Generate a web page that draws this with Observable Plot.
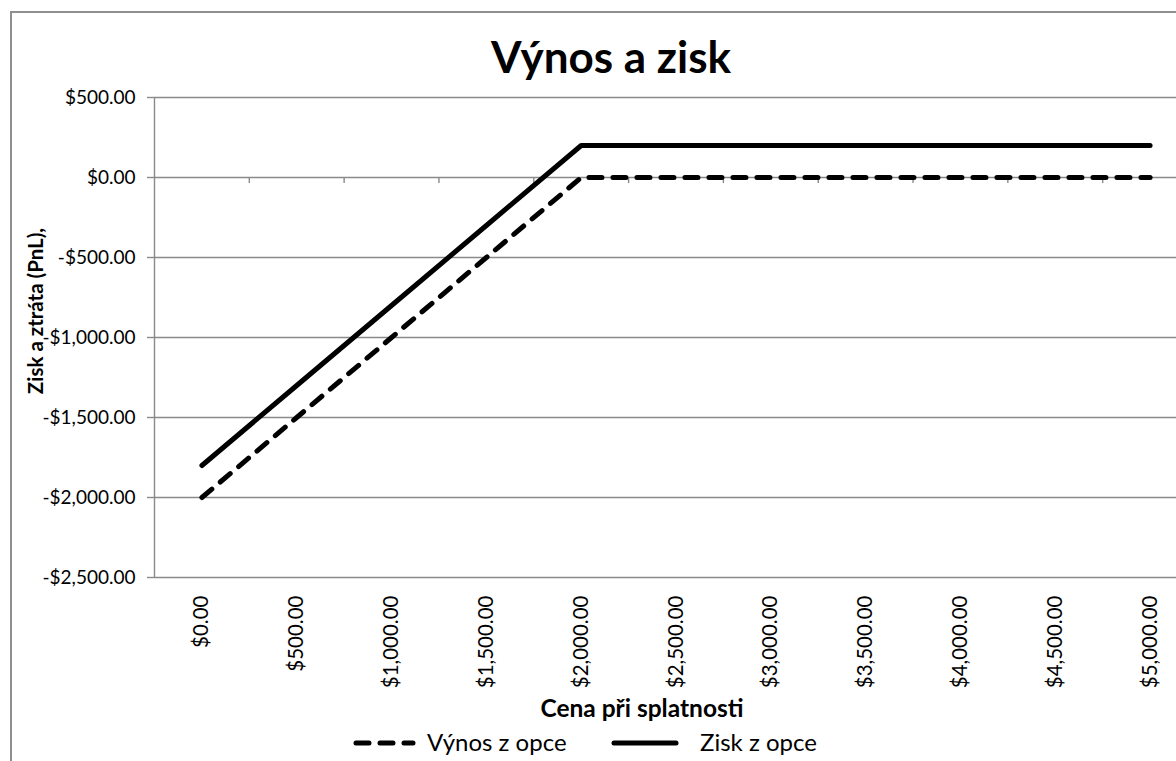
<!DOCTYPE html>
<html>
<head>
<meta charset="utf-8">
<script src="https://cdn.jsdelivr.net/npm/d3@7"></script>
<script src="https://cdn.jsdelivr.net/npm/@observablehq/plot@0.6"></script>
<style>
  html, body { margin: 0; padding: 0; background: #fff; overflow: hidden; }
  #wrap { position: relative; width: 1176px; height: 761px; overflow: hidden; font-family: Lato, "Open Sans", sans-serif; }
  #frame { position: absolute; left: 10px; top: 11px; width: 1300px; height: 900px; border: 2px solid #8f8f8f; box-sizing: border-box; }
  #chart { position: absolute; left: 0; top: 0; }
  #overlay { position: absolute; left: 0; top: 0; }
</style>
</head>
<body>
<div id="wrap">
  <div id="frame"></div>
  <div id="chart"></div>
  <svg id="overlay" width="1176" height="761"></svg>
</div>
<script>
// ---- data ----
const xLabels = ["$0.00", "$500.00", "$1,000.00", "$1,500.00", "$2,000.00", "$2,500.00", "$3,000.00", "$3,500.00", "$4,000.00", "$4,500.00", "$5,000.00"];
const prices = [0, 500, 1000, 1500, 2000, 2500, 3000, 3500, 4000, 4500, 5000];
const payoff = [-2000, -1500, -1000, -500, 0, 0, 0, 0, 0, 0, 0];
const profit = [-1800, -1300, -800, -300, 200, 200, 200, 200, 200, 200, 200];
const yTicks = [500, 0, -500, -1000, -1500, -2000, -2500];
const seriesNames = ["Výnos z opce", "Zisk z opce"];
const title = "Výnos a zisk";
const xTitle = "Cena při splatnosti";
const yTitle = "Zisk a ztráta (PnL),";

// ---- derived tables ----
const idx = prices.map((_, i) => i);
const payoffData = idx.map(i => ({i, v: payoff[i], s: seriesNames[0]}));
const profitData = idx.map(i => ({i, v: profit[i], s: seriesNames[1]}));
const boundaries = idx.slice(1).map(i => i - 0.5);
const fmt = v => (v < 0 ? "-" : "") + "$" + d3.format(",.2f")(Math.abs(v));
const grey = "#8a8a8a";

const chart = Plot.plot({
  width: 1200,
  height: 700,
  marginLeft: 154,
  marginRight: 3,
  marginTop: 97,
  marginBottom: 123,
  style: {fontFamily: "Lato, 'Open Sans', sans-serif", fontSize: "19px", color: "#000", background: "transparent", maxWidth: "none", overflow: "visible"},
  x: {type: "linear", domain: [-0.5, prices.length - 0.5]},
  y: {type: "linear", domain: [-2500, 500]},
  marks: [
    Plot.ruleY(yTicks, {stroke: grey, strokeWidth: 1.4}),
    Plot.ruleX([-0.5], {stroke: grey, strokeWidth: 1.4}),
    Plot.ruleX(boundaries, {y1: 0, y2: -38, stroke: grey, strokeWidth: 1.4}),
    Plot.axisY({ticks: yTicks, tickFormat: fmt, tickSize: 7, tickPadding: 12, stroke: grey, strokeWidth: 1.4, fill: "#000", fontSize: 19, label: null}),
    Plot.axisX({ticks: idx, tickFormat: i => xLabels[i], tickRotate: -90, tickSize: 0, tickPadding: 18, fill: "#000", fontSize: 20.5, label: null}),
    Plot.line(payoffData, {x: "i", y: "v", stroke: "#000", strokeWidth: 5, strokeDasharray: "13,11", strokeLinecap: "round", strokeLinejoin: "round"}),
    Plot.line(profitData, {x: "i", y: "v", stroke: "#000", strokeWidth: 5, strokeLinecap: "round", strokeLinejoin: "round"})
  ]
});
document.getElementById("chart").appendChild(chart);

// ---- titles & legend ----
const ov = d3.select("#overlay").style("font-family", "Lato, 'Open Sans', sans-serif");
ov.append("text").attr("x", 611).attr("y", 73).attr("text-anchor", "middle")
  .attr("font-size", 44).attr("font-weight", "bold").text(title);
ov.append("text").attr("transform", "translate(43,311) rotate(-90)").attr("text-anchor", "middle")
  .attr("font-size", 20.5).attr("font-weight", "bold").text(yTitle);
ov.append("text").attr("x", 642).attr("y", 717).attr("text-anchor", "middle")
  .attr("font-size", 24.5).attr("font-weight", "bold").text(xTitle);

// legend
ov.append("line").attr("x1", 356).attr("x2", 413).attr("y1", 743).attr("y2", 743)
  .attr("stroke", "#000").attr("stroke-width", 5).attr("stroke-dasharray", "13,11").attr("stroke-linecap", "round");
ov.append("text").attr("x", 427).attr("y", 751).attr("font-size", 24).text(seriesNames[0]);
ov.append("line").attr("x1", 614).attr("x2", 676).attr("y1", 743).attr("y2", 743)
  .attr("stroke", "#000").attr("stroke-width", 5).attr("stroke-linecap", "round");
ov.append("text").attr("x", 700).attr("y", 751).attr("font-size", 24).text(seriesNames[1]);
</script>
</body>
</html>
